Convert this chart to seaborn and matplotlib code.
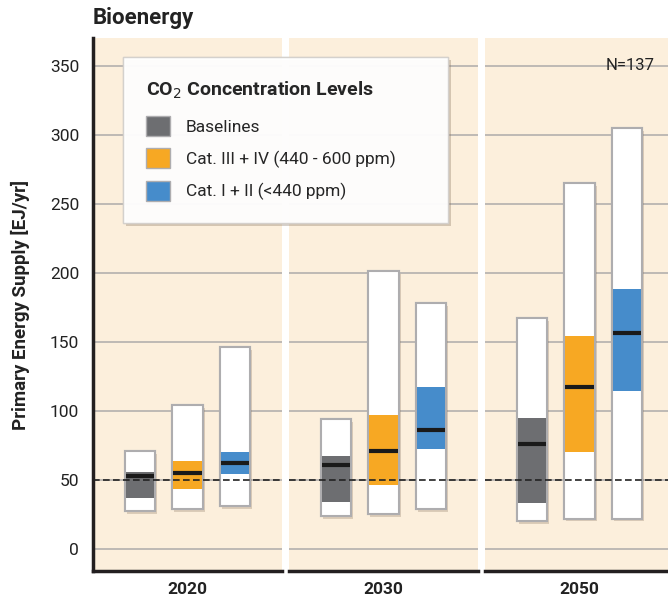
import numpy as np
import pandas as pd
import matplotlib
matplotlib.use("Agg")
import matplotlib.pyplot as plt
import matplotlib.patheffects as pe
from matplotlib.patches import Patch
import seaborn as sns

# values (EJ/yr)
years = ["2020", "2030", "2050"]
categories = ["Baselines", "Cat. III + IV (440 - 600 ppm)", "Cat. I + II (<440 ppm)"]
colors = ["#6d6e71", "#f7a823", "#468ccb"]

# one list per category, one value per year
range_min = {"Baselines": [27.5, 24, 20],
             "Cat. III + IV (440 - 600 ppm)": [29, 25, 22],
             "Cat. I + II (<440 ppm)": [31, 29, 22]}
range_max = {"Baselines": [71, 94, 167],
             "Cat. III + IV (440 - 600 ppm)": [104, 201, 265],
             "Cat. I + II (<440 ppm)": [146, 178, 305]}
q25 = {"Baselines": [37, 34, 33],
       "Cat. III + IV (440 - 600 ppm)": [43.5, 46, 70],
       "Cat. I + II (<440 ppm)": [54, 72, 114]}
q75 = {"Baselines": [56, 67, 95],
       "Cat. III + IV (440 - 600 ppm)": [64, 97, 154],
       "Cat. I + II (<440 ppm)": [70, 117, 188]}
median = {"Baselines": [53, 61, 76],
          "Cat. III + IV (440 - 600 ppm)": [55, 71, 117],
          "Cat. I + II (<440 ppm)": [62, 86, 156]}
y_ticks = [0, 50, 100, 150, 200, 250, 300, 350]
reference_level = 50
n_label = "N=137"

rows = []
for cat in categories:
    for i, yr in enumerate(years):
        rows.append(dict(year=yr, cat=cat, lo=range_min[cat][i], hi=range_max[cat][i],
                         q1=q25[cat][i], q3=q75[cat][i], med=median[cat][i]))
df = pd.DataFrame(rows)

sns.set_theme(style="white")
plt.rcParams["font.family"] = ["Roboto", "DejaVu Sans"]

W, H = 668, 600
fig = plt.figure(figsize=(W / 100, H / 100), dpi=100)
bg = "#fcefdc"
grid_c = "#b9b5b1"
shadow = [pe.withSimplePatchShadow(offset=(1.5, -2), shadow_rgbFace="#7a6650", alpha=0.25), pe.Normal()]

left, pw, gap = 93, 189, 7
bot, top = 571, 38
axes = []
for k, yr in enumerate(years):
    x0 = left + k * (pw + gap)
    ax = fig.add_axes([x0 / W, (H - bot) / H, pw / W, (bot - top) / H])
    ax.set_facecolor(bg)
    ax.set_xlim(-1, 3)
    ax.set_ylim(-16, 370)
    for t in y_ticks:
        ax.axhline(t, color=grid_c, lw=1.3, zorder=1)
    ax.axhline(reference_level, color="#222222", lw=1.2, ls=(0, (4, 2)), zorder=4)
    sub = df[df.year == yr]
    for j, cat in enumerate(categories):
        r = sub[sub.cat == cat].iloc[0]
        ax.bar(j, r.hi - r.lo, bottom=r.lo, width=0.64, color="white",
               edgecolor="#aeadaf", lw=1.5, zorder=2, path_effects=shadow)
        ax.bar(j, r.q3 - r.q1, bottom=r.q1, width=0.6, color=colors[j], lw=0, zorder=3)
        ax.hlines(r.med, j - 0.3, j + 0.3, color="#1a1a1a", lw=3, zorder=5)
    ax.set_xticks([])
    ax.set_yticks(y_ticks)
    ax.tick_params(axis="y", length=0, labelsize=12.5, pad=10, colors="#222222")
    for s in ["top", "right", "left"]:
        ax.spines[s].set_visible(False)
    ax.spines["bottom"].set_color("#231f20")
    ax.spines["bottom"].set_linewidth(2.5)
    if k == 0:
        ax.spines["left"].set_visible(True)
        ax.spines["left"].set_color("#231f20")
        ax.spines["left"].set_linewidth(2.5)
        ax.set_ylabel("Primary Energy Supply [EJ/yr]", fontsize=13.5, fontweight="bold",
                      color="#222222", labelpad=14)
    else:
        ax.set_yticklabels([])
    ax.set_xlabel(yr, fontsize=12.5, fontweight="bold", color="#222222", labelpad=8)
    axes.append(ax)

axes[2].text(0.9, 350, n_label, ha="right", va="center", fontsize=12, color="#222222",
             transform=axes[2].get_yaxis_transform())
fig.text(93 / W, 1 - 18 / H, "Bioenergy", ha="left", va="center", fontsize=16,
         fontweight="bold", color="#222222")

handles = [Patch(facecolor=c, edgecolor="#aeadaf", lw=1) for c in colors]
leg = fig.legend(handles, categories, title="CO$_2$ Concentration Levels",
                 loc="upper left", bbox_to_anchor=(123 / W, 1 - 225 / H, 325 / W, 168 / H),
                 mode="expand",
                 frameon=True, fancybox=False, fontsize=12.5, title_fontsize=14,
                 handlelength=1.4, handleheight=1.4, handletextpad=0.9,
                 labelspacing=0.7, borderpad=1.3, borderaxespad=0, alignment="left")
leg.get_title().set_fontweight("bold")
leg._legend_box.sep = 11
leg.get_frame().set_edgecolor("#d0ccc8")
leg.get_frame().set_linewidth(1.0)
leg.get_frame().set_path_effects([pe.withSimplePatchShadow(offset=(2, -2), shadow_rgbFace="#7a6650", alpha=0.3), pe.Normal()])
leg.set_zorder(10)

fig.savefig("out.png", dpi=100, facecolor="white")
